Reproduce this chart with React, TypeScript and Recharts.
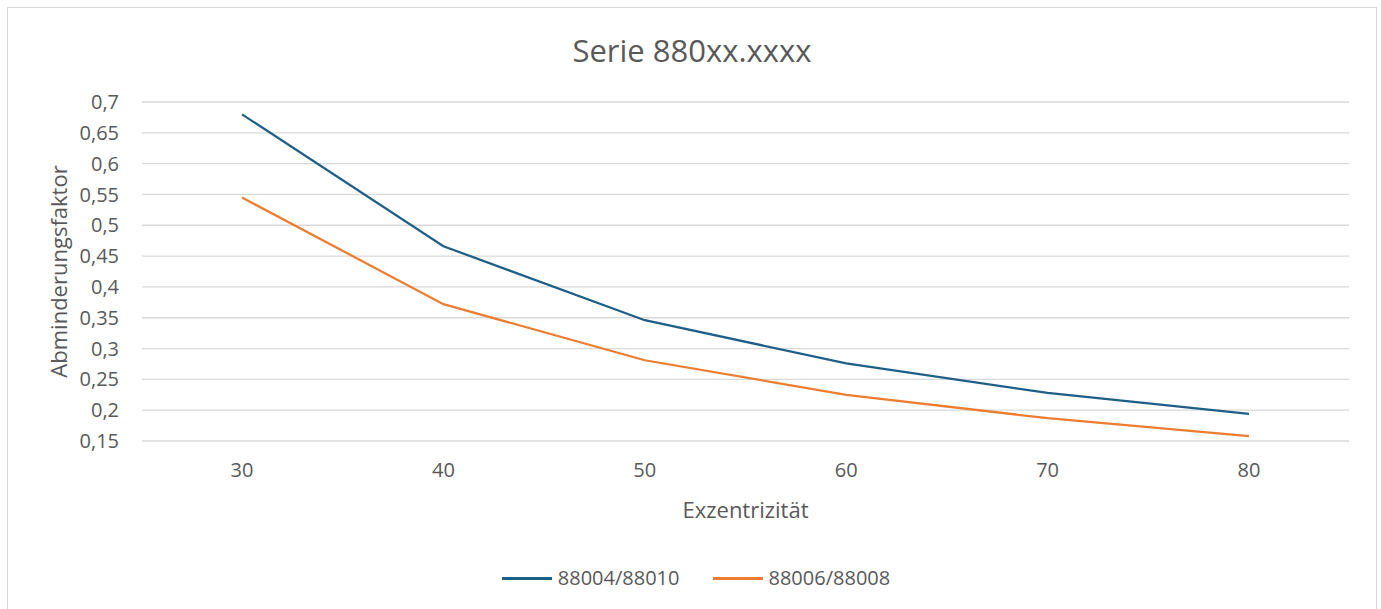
import { CartesianGrid, Legend, Line, LineChart, XAxis, YAxis } from 'recharts'

const categories = [30, 40, 50, 60, 70, 80]
const values88004 = [0.68, 0.466, 0.346, 0.276, 0.228, 0.194]
const values88006 = [0.545, 0.372, 0.281, 0.225, 0.187, 0.158]
const yTicks = [0.15, 0.2, 0.25, 0.3, 0.35, 0.4, 0.45, 0.5, 0.55, 0.6, 0.65, 0.7]
const seriesNames = ['88004/88010', '88006/88008']

const BLUE = '#1e5f87'
const ORANGE = '#ed7d31'
const TEXT = '#595959'
const FONT = '"Open Sans", sans-serif'

const data = categories.map((c, i) => ({
  x: c,
  a: values88004[i],
  b: values88006[i],
}))

function fmt(v: number) {
  return String(v).replace('.', ',')
}

export default function App() {
  return (
    <div
      style={{
        position: 'absolute',
        left: 7,
        top: 7,
        width: 1368,
        height: 620,
        border: '1px solid #d9d9d9',
        background: '#fff',
        fontFamily: FONT,
      }}
    >
      <div
        style={{
          position: 'absolute',
          top: 22,
          left: 0,
          width: '100%',
          textAlign: 'center',
          lineHeight: '40px',
          fontSize: 31,
          color: TEXT,
        }}
      >
        Serie 880xx.xxxx
      </div>
      <LineChart
        width={1368}
        height={610}
        data={data}
        margin={{ top: 94, right: 27, left: 54, bottom: 117 }}
      >
        <CartesianGrid stroke="#d9d9d9" strokeWidth={1.3} vertical={false} />
        <XAxis
          dataKey="x"
          type="category"
          padding={{ left: 100, right: 100 }}
          axisLine={false}
          tickLine={false}
          tickSize={0}
          tickMargin={22}
          height={60}
          tick={{ fontSize: 20, fill: TEXT, fontFamily: FONT }}
          label={{
            content: (props: any) => {
              const vb = props.viewBox
              return (
                <text
                  x={vb.x + vb.width / 2}
                  y={vb.y + 68}
                  textAnchor="middle"
                  dominantBaseline="central"
                  fontSize={22}
                  fill={TEXT}
                  fontFamily={FONT}
                >
                  Exzentrizität
                </text>
              )
            },
          }}
        />
        <YAxis
          domain={[0.15, 0.7]}
          ticks={yTicks}
          interval={0}
          width={80}
          axisLine={false}
          tickLine={false}
          tickSize={0}
          tickMargin={23}
          tickFormatter={(v) => fmt(Number(v))}
          tick={{ fontSize: 20, fill: TEXT, fontFamily: FONT }}
          label={{
            content: (props: any) => {
              const vb = props.viewBox
              const cx = vb.x - 4
              const cy = vb.y + vb.height / 2
              return (
                <text
                  x={cx}
                  y={cy}
                  textAnchor="middle"
                  dominantBaseline="central"
                  transform={`rotate(-90, ${cx}, ${cy})`}
                  fontSize={22}
                  fill={TEXT}
                  fontFamily={FONT}
                >
                  Abminderungsfaktor
                </text>
              )
            },
          }}
        />
        <Legend
          verticalAlign="middle"
          align="center"
          wrapperStyle={{ top: 556, left: 0, width: 1368 }}
          content={() => (
            <div
              style={{
                display: 'flex',
                justifyContent: 'center',
                gap: 33,
                fontSize: 20,
                color: TEXT,
                fontFamily: FONT,
                lineHeight: '28px',
                paddingLeft: 8,
              }}
            >
              {[BLUE, ORANGE].map((c, i) => (
                <div key={i} style={{ display: 'flex', alignItems: 'center' }}>
                  <span
                    style={{
                      display: 'inline-block',
                      width: 50,
                      height: 3,
                      background: c,
                      marginRight: 6,
                    }}
                  />
                  {seriesNames[i]}
                </div>
              ))}
            </div>
          )}
        />
        <Line
          dataKey="a"
          name={seriesNames[0]}
          stroke={BLUE}
          strokeWidth={2.25}
          dot={false}
          activeDot={false}
          isAnimationActive={false}
        />
        <Line
          dataKey="b"
          name={seriesNames[1]}
          stroke={ORANGE}
          strokeWidth={2.25}
          dot={false}
          activeDot={false}
          isAnimationActive={false}
        />
      </LineChart>
    </div>
  )
}
